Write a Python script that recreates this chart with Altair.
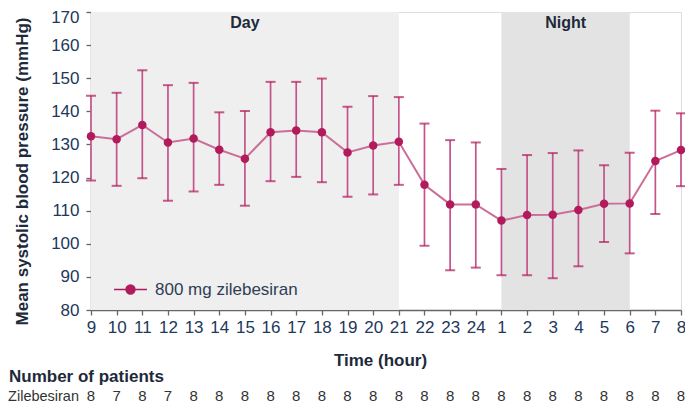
import json
import altair as alt
import pandas as pd

hours = ["9", "10", "11", "12", "13", "14", "15", "16", "17", "18", "19", "20",
         "21", "22", "23", "24", "1", "2", "3", "4", "5", "6", "7", "8"]
mean_sbp = [132.5, 131.6, 135.9, 130.6, 131.8, 128.4, 125.7, 133.7, 134.2, 133.7, 127.6, 129.7,
            130.8, 117.8, 111.9, 111.9, 107.0, 108.7, 108.8, 110.2, 112.1, 112.2, 125.0, 128.3]
upper_sbp = [144.7, 145.6, 152.4, 147.9, 148.6, 139.7, 140.1, 148.9, 148.9, 149.9, 141.4, 144.6,
             144.3, 136.3, 131.3, 130.6, 122.6, 126.8, 127.4, 128.2, 123.7, 127.5, 140.2, 139.4]
lower_sbp = [119.1, 117.5, 119.8, 113.0, 115.8, 117.8, 111.5, 118.9, 120.2, 118.6, 114.2, 114.9,
             117.8, 99.4, 92.0, 92.8, 90.5, 90.5, 89.6, 93.2, 100.5, 97.1, 109.0, 117.4]
n_patients = [8, 7, 8, 7, 8, 8, 8, 8, 8, 8, 8, 8, 8, 8, 8, 8, 8, 8, 8, 8, 8, 8, 8, 8]
y_ticks = [80, 90, 100, 110, 120, 130, 140, 150, 160, 170]

period_names = ["Day", "Night"]
period_start = ["9", "1"]
period_end = ["21", "6"]
period_fill = ["#efefef", "#e3e3e3"]

series_name = "800 mg zilebesiran"

FONT = "Liberation Sans, Arial, Helvetica, sans-serif"
MAIN = "#b11b5c"
BAR = "#c4538a"
LINE = "#cc6e98"
LABEL = "#22385a"
DARK = "#1e2a3a"

df = pd.DataFrame({
    "idx": list(range(len(hours))),
    "hour": hours,
    "mean": mean_sbp,
    "upper": upper_sbp,
    "lower": lower_sbp,
    "n": n_patients,
    "series": series_name,
})

periods = pd.DataFrame({
    "name": period_names,
    "start": [hours.index(h) for h in period_start],
    "end": [hours.index(h) for h in period_end],
    "fill": period_fill,
})

label_expr = json.dumps(hours) + "[datum.value]"

x_scale = alt.Scale(domain=[0, len(hours) - 1], nice=False, zero=False)
y_scale = alt.Scale(domain=[80, 170], nice=False, zero=False)

x_axis = alt.Axis(
    values=list(range(len(hours))), labelExpr=label_expr, title="Time (hour)",
    grid=False, tickSize=5, labelPadding=4, labelFontSize=17, labelColor=LABEL,
    labelFont=FONT, labelOverlap=False, labelBound=False, labelFlush=False,
    titleFont=FONT, titleFontSize=17, titleFontWeight="bold",
    titleColor=DARK, titleX=289, titleY=55, titleBaseline="alphabetic",
    titleAnchor="start", titleAlign="center",
    domainColor="#666666", tickColor="#666666", domainWidth=1.3, tickWidth=1.3,
)
y_axis = alt.Axis(
    values=y_ticks, title="Mean systolic blood pressure (mmHg)", grid=False,
    tickSize=5, labelPadding=7, labelFontSize=17, labelColor=LABEL, labelFont=FONT,
    labelOverlap=False, labelBound=False, labelFlush=False,
    labelOffset={"condition": {"test": "datum.value == 170", "value": 5}, "value": 0},
    titleFont=FONT, titleFontSize=17, titleFontWeight="bold", titleColor=DARK,
    titleX=-69, titleY=159, titleAngle=-90, titleBaseline="middle", titleAlign="center",
    titleAnchor="start",
    domainColor="#666666", tickColor="#666666", domainWidth=1.3, tickWidth=1.3,
)


def X(field):
    return alt.X(field, scale=x_scale, axis=x_axis)


def Y(field):
    return alt.Y(field, scale=y_scale, axis=y_axis)


base = alt.Chart(df)

shade = alt.Chart(periods).mark_rect().encode(
    x=X("start:Q"),
    x2="end:Q",
    y=alt.value(0),
    y2=alt.value(298),
    fill=alt.Fill("fill:N", scale=None),
)

shade_text = alt.Chart(periods).transform_calculate(
    mid="(datum.start + datum.end) / 2"
).mark_text(font=FONT, fontSize=16, fontWeight="bold", color=DARK, baseline="middle").encode(
    x=X("mid:Q"),
    y=alt.value(11),
    text="name:N",
)

line = base.mark_line(color=LINE, strokeWidth=2).encode(
    x=X("idx:Q"),
    y=Y("mean:Q"),
)

bars = base.mark_rule(color=BAR, strokeWidth=1.7).encode(
    x=X("idx:Q"),
    y=Y("lower:Q"),
    y2="upper:Q",
)

caps = base.transform_fold(["lower", "upper"], as_=["end", "val"]).mark_tick(
    color=MAIN, orient="horizontal", size=10, thickness=2
).encode(
    x=X("idx:Q"),
    y=Y("val:Q"),
)

points = base.mark_point(filled=True, size=72, opacity=1).encode(
    x=X("idx:Q"),
    y=Y("mean:Q"),
    color=alt.Color(
        "series:N",
        scale=alt.Scale(domain=[series_name], range=[MAIN]),
        legend=alt.Legend(
            title=None, orient="none", legendX=22, legendY=260, padding=0,
            symbolType="M-1,0H1M-0.27,0A0.27,0.27,0,1,1,0.27,0A0.27,0.27,0,1,1,-0.27,0Z",
            symbolSize=1089, symbolStrokeColor=MAIN, symbolStrokeWidth=1.5,
            symbolFillColor=MAIN, symbolOpacity=1,
            labelFont=FONT, labelFontSize=17, labelColor="#2e3e56", labelOffset=7,
        ),
    ),
)

counts = base.mark_text(font=FONT, fontSize=15, color="#333333", baseline="alphabetic").encode(
    x=X("idx:Q"),
    y=alt.value(389),
    text="n:Q",
)

row_title = alt.Chart(pd.DataFrame({"t": ["Number of patients"]})).mark_text(
    font=FONT, fontSize=17, fontWeight="bold", color=DARK, align="left", baseline="alphabetic"
).encode(x=alt.value(-82), y=alt.value(370), text="t:N")

row_label = alt.Chart(pd.DataFrame({"t": ["Zilebesiran"]})).mark_text(
    font=FONT, fontSize=14.5, color="#333333", align="right", baseline="alphabetic"
).encode(x=alt.value(-12), y=alt.value(389), text="t:N")

chart = alt.layer(
    shade, shade_text, line, bars, caps, points, counts, row_title, row_label
).properties(
    width=590, height=298,
    autosize=alt.AutoSizeParams(type="none"),
    padding={"left": 83, "top": 4, "right": 4, "bottom": 98},
).configure_view(stroke=None).configure(background="white")

chart.save("out.html", embed_options={"renderer": "svg", "actions": False})
